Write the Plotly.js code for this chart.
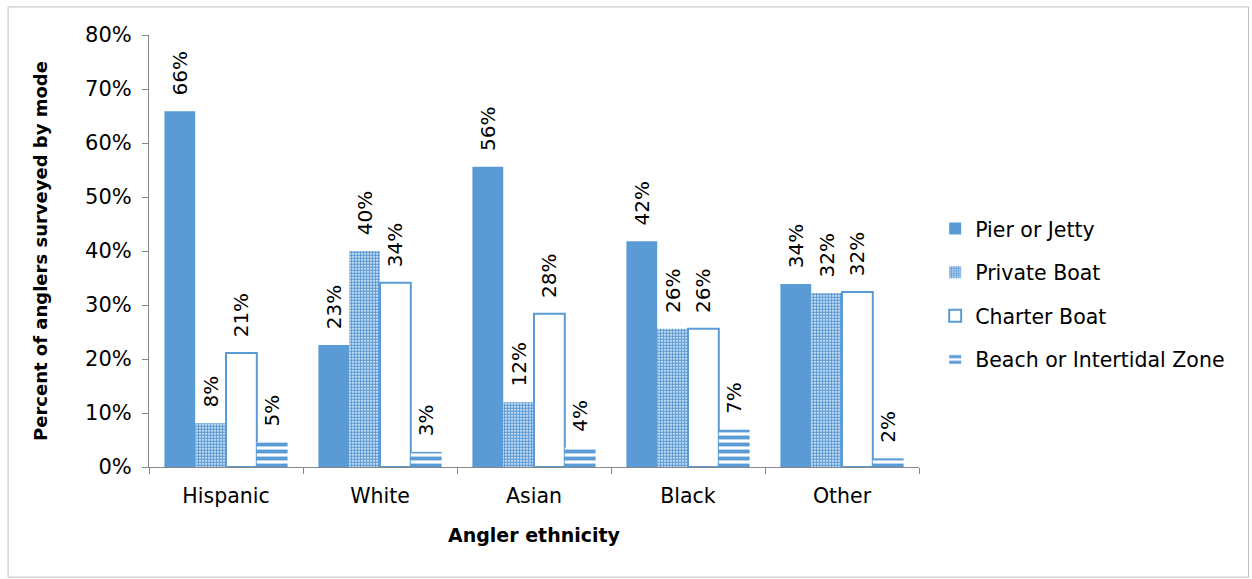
<!DOCTYPE html>
<html><head><meta charset="utf-8">
<script src="https://cdn.plot.ly/plotly-3.0.1.min.js"></script>
<style>html,body{margin:0;padding:0;background:#fff}#chart{width:1252px;height:579px}</style>
</head><body><div id="chart"></div>
<script>
const categories = ["Hispanic", "White", "Asian", "Black", "Other"];
const seriesNames = ["Pier or Jetty", "Private Boat", "Charter Boat", "Beach or Intertidal Zone"];
const pierJetty   = [65.9, 22.6, 55.6, 41.8, 33.9];
const privateBoat = [8.1, 40.0, 12.0, 25.6, 32.2];
const charterBoat = [21.1, 34.1, 28.4, 25.6, 32.4];
const beachZone   = [4.6, 2.8, 3.6, 6.9, 1.6];
const yTickVals = [0, 10, 20, 30, 40, 50, 60, 70, 80];
const yTickText = ["0%", "10%", "20%", "30%", "40%", "50%", "60%", "70%", "80%"];

const blue = "#5b9bd5";
const FONT = "DejaVu Sans, sans-serif";
const labelFont = {family: FONT, size: 20, color: "#000"};

function lbl(arr){ return arr.map(v => "\u00a0\u00a0" + Math.round(v) + "%"); }
function base(name, y, i){
  return {type: "bar", name: name, x: categories, y: y, text: lbl(y),
    textposition: "outside", textangle: -90, textfont: labelFont,
    constraintext: "none", cliponaxis: false, legendgroup: "g" + i, hoverinfo: "none"};
}
const traces = [
  Object.assign(base(seriesNames[0], pierJetty, 0), {marker: {color: blue}}),
  Object.assign(base(seriesNames[1], privateBoat, 1), {marker: {color: "#fff",
    pattern: {shape: ".", fgcolor: blue, bgcolor: "#fff", size: 3, solidity: 0.7, fillmode: "replace"}}}),
  Object.assign(base(seriesNames[2], charterBoat, 2), {marker: {color: "#fff", line: {color: blue, width: 2}}}),
  Object.assign(base(seriesNames[3], beachZone, 3), {marker: {color: "#fff",
    pattern: {shape: "-", fgcolor: blue, bgcolor: "#fff", size: 7, solidity: 0.55, fillmode: "replace"}}})
];

const layout = {
  width: 1252, height: 579,
  margin: {l: 149, r: 333, t: 35, b: 112},
  paper_bgcolor: "#fff", plot_bgcolor: "#fff",
  font: {family: FONT, size: 20, color: "#000"},
  barmode: "group", bargap: 0.2, bargroupgap: 0,
  showlegend: true,
  legend: {x: 1.021, y: 0.40, xanchor: "left", yanchor: "middle",
    font: {family: FONT, size: 20.5, color: "#000"}, tracegroupgap: 14,
    itemwidth: 30, bgcolor: "rgba(0,0,0,0)"},
  xaxis: {type: "category", showline: true, linecolor: "#868686", linewidth: 1,
    ticks: "outside", tickson: "boundaries", ticklen: 6, tickcolor: "#868686",
    showgrid: false, tickfont: {family: FONT, size: 20.5}, ticklabelstandoff: 10,
    title: {text: "<b>Angler ethnicity</b>", font: {family: FONT, size: 19}, standoff: 22}},
  yaxis: {range: [0, 80], tickvals: yTickVals, ticktext: yTickText,
    showline: true, linecolor: "#868686", linewidth: 1, ticks: "outside",
    ticklen: 6, tickcolor: "#868686", showgrid: false, zeroline: false,
    tickfont: {family: FONT, size: 21}, ticklabelstandoff: 6,
    title: {text: "<b>Percent of anglers surveyed by mode</b>", font: {family: FONT, size: 18}, standoff: 32}},
  shapes: [{type: "rect", xref: "paper", yref: "paper",
    x0: -0.183, x1: 1.428, y0: -0.255, y1: 1.065,
    line: {color: "#bfbfbf", width: 1}, fillcolor: "rgba(0,0,0,0)"}]
};
Plotly.newPlot("chart", traces, layout, {staticPlot: true});
</script></body></html>
